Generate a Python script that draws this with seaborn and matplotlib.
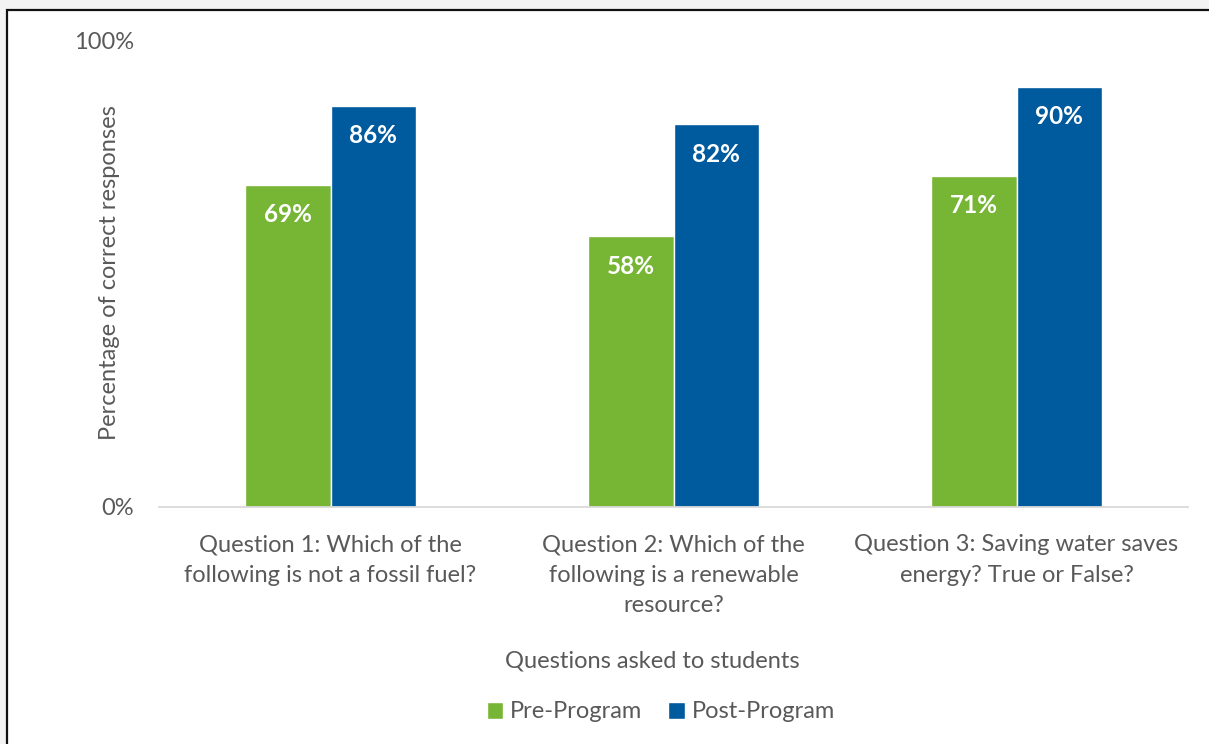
import matplotlib
matplotlib.use("Agg")
import matplotlib.pyplot as plt
from matplotlib.patches import Rectangle, Patch
import seaborn as sns
import pandas as pd

# Survey results: share of correct answers before and after the program
questions = [
    "Question 1: Which of the\nfollowing is not a fossil fuel?",
    "Question 2: Which of the\nfollowing is a renewable\nresource?",
    "Question 3: Saving water saves\nenergy? True or False?",
]
phases = ["Pre-Program", "Post-Program"]
pre_program = [69, 58, 71]
post_program = [86, 82, 90]
y_tick_labels = ["0%", "100%"]

green = "#76B634"
blue = "#005A9E"
text_grey = "#595959"

df = pd.DataFrame({
    "question": questions * 2,
    "phase": [phases[0]] * 3 + [phases[1]] * 3,
    "value": pre_program + post_program,
})

sns.set_style("white")
plt.rcParams["font.family"] = ["Lato", "DejaVu Sans"]

W, H = 1209, 744
fig = plt.figure(figsize=(W / 100, H / 100), dpi=100)
fig.patch.set_facecolor("#f3f3f3")

# white chart area with a dark frame on the top and left
fig.patches.append(Rectangle((6.5 / W, -0.1), 1.2, 0.1 + (H - 9.5) / H,
                             transform=fig.transFigure,
                             facecolor="white", edgecolor="#111111", linewidth=1.6,
                             zorder=-10))

ax = fig.add_axes([159 / W, 1 - 506.7 / H, (1188 - 159) / W, (506.7 - 40.4) / H])
ax.set_facecolor("none")

sns.barplot(data=df, x="question", y="value", hue="phase", order=questions,
            hue_order=phases, palette=[green, blue], width=0.5, gap=0,
            saturation=1, ax=ax, legend=False, errorbar=None)

ax.set_xlim(-0.5, 2.5)
ax.set_ylim(0, 100)
ax.set_yticks([0, 100])
ax.set_yticklabels(y_tick_labels)

for s in ["top", "right", "left"]:
    ax.spines[s].set_visible(False)
ax.spines["bottom"].set_color("#d9d9d9")
ax.spines["bottom"].set_linewidth(1.3)
ax.tick_params(axis="both", length=0, labelcolor=text_grey, labelsize=17)
ax.tick_params(axis="y", pad=18)
ax.tick_params(axis="x", pad=20)
for lab in ax.get_xticklabels():
    lab.set_linespacing(1.55)
    lab.set_verticalalignment("top")

# value labels inside the top of each bar
for cont in ax.containers:
    for bar in cont:
        h = bar.get_height()
        ax.annotate(f"{h:.0f}%", (bar.get_x() + bar.get_width() / 2, h),
                    xytext=(0, -21.5), textcoords="offset points",
                    ha="center", va="center", color="white",
                    fontsize=17.5, fontweight="bold")

ax.set_xlabel("")
ax.set_ylabel("")
fig.text(110 / W, 1 - 273 / H, "Percentage of correct responses", rotation=90,
         ha="center", va="center", color=text_grey, fontsize=17)
fig.text(652 / W, 1 - 661 / H, "Questions asked to students",
         ha="center", va="center", color=text_grey, fontsize=17)

handles = [Patch(facecolor=green, label=phases[0]),
           Patch(facecolor=blue, label=phases[1])]
fig.legend(handles=handles, loc="center", bbox_to_anchor=(661 / W, 1 - 712 / H),
           ncol=2, frameon=False, fontsize=17, labelcolor=text_grey,
           handlelength=0.7, handleheight=0.7, handletextpad=0.3,
           columnspacing=1.1)

fig.savefig("out.png", dpi=100, facecolor=fig.get_facecolor())
